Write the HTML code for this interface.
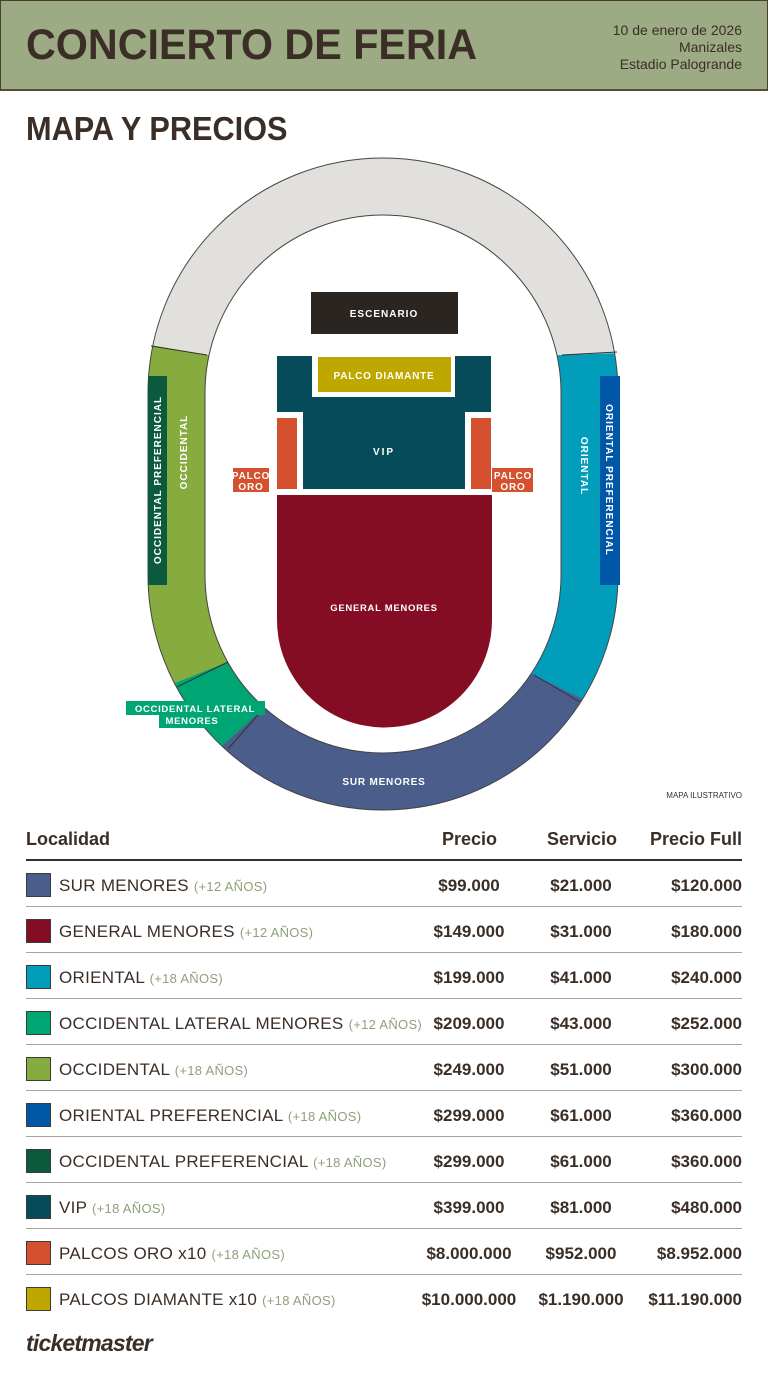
<!DOCTYPE html>
<html><head><meta charset="utf-8"><style>
*{margin:0;padding:0;box-sizing:border-box}
body{width:768px;height:1376px;background:#fff;position:relative;font-family:"Liberation Sans",sans-serif;color:#3b2e26;overflow:hidden}
.hdr{position:absolute;left:0;top:0;width:768px;height:91px;background:#9cab84;border:1px solid #4a3d33;border-bottom:2px solid #5a4a3e}
.t{position:absolute;white-space:nowrap;font-weight:bold}
.r{position:absolute;right:26px;text-align:right;font-size:14px;line-height:17px;top:22px;color:#3b2e26}
.row{position:absolute;left:26px;width:716px;height:46px;border-bottom:1px solid #a9a49e}
.sq{position:absolute;left:0;top:12px;width:25px;height:24px;border:1px solid #3b3b3b}
.nm{position:absolute;left:33px;top:15px;font-size:17px;white-space:nowrap;letter-spacing:0.3px}
.nm span{font-size:13px;color:#8fa07a}
.c{position:absolute;top:15px;font-size:17px;font-weight:bold;white-space:nowrap}
.p{left:443px;width:0;text-align:center}
.p b,.s b{position:absolute;transform:translateX(-50%);font-weight:bold}
.s{left:555px;width:0}
.f{right:0;text-align:right}
</style></head><body>
<div class="hdr"></div>
<div class="t" style="left:26px;top:21px;font-size:43px;transform:scaleX(0.96);transform-origin:left">CONCIERTO DE FERIA</div>
<div class="r">10 de enero de 2026<br>Manizales<br>Estadio Palogrande</div>
<div class="t" style="left:26px;top:110px;font-size:33px;transform:scaleX(0.93);transform-origin:left">MAPA Y PRECIOS</div>

<svg style="position:absolute;left:0;top:0" width="768" height="820" viewBox="0 0 768 820" font-family="Liberation Sans, sans-serif" font-weight="bold">
<defs>
<path id="ring" fill-rule="evenodd" d="M148,393 A235,235 0 0 1 618,393 L618,575 A235,235 0 0 1 148,575 Z M205,393 A178,178 0 0 1 561,393 L561,575 A178,178 0 0 1 205,575 Z"/>
<clipPath id="cg"><polygon points="0,0,768,0,768,348,562,355,383,362,207,355,0,318"/></clipPath>
<clipPath id="co"><polygon points="383,360,768,348,768,1000,383,600"/></clipPath>
<clipPath id="cl"><polygon points="383,600,-5,755,0,1000,383,1000"/></clipPath>
<clipPath id="cs"><polygon points="383,600,26,924,383,1100,836,825"/></clipPath>
</defs>
<use href="#ring" fill="#86ab3e"/>
<use href="#ring" fill="#029dbb" clip-path="url(#co)"/>
<use href="#ring" fill="#e1e0dc" clip-path="url(#cg)"/>
<use href="#ring" fill="#00a574" clip-path="url(#cl)"/>
<use href="#ring" fill="#4a5d8b" clip-path="url(#cs)"/>
<use href="#ring" fill="none" stroke="#444" stroke-width="1"/>
<g stroke="#333" stroke-width="1">
<line x1="151" y1="346" x2="207" y2="355"/><line x1="617" y1="352" x2="562" y2="355"/>
<line x1="177" y1="687" x2="228" y2="662"/><line x1="228" y1="749" x2="264" y2="708"/>
<line x1="580" y1="702" x2="534" y2="675"/></g>
<rect x="148" y="376" width="19" height="209" fill="#0b5a3e"/>
<rect x="600" y="376" width="20" height="209" fill="#0057a8"/>
<text transform="translate(161,480) rotate(-90)" font-size="10" fill="#fff" text-anchor="middle" letter-spacing="1">OCCIDENTAL PREFERENCIAL</text>
<text transform="translate(187,452) rotate(-90)" font-size="10" fill="#fff" text-anchor="middle" letter-spacing="1">OCCIDENTAL</text>
<text transform="translate(606,480) rotate(90)" font-size="10" fill="#fff" text-anchor="middle" letter-spacing="1">ORIENTAL PREFERENCIAL</text>
<text transform="translate(581,466) rotate(90)" font-size="10" fill="#fff" text-anchor="middle" letter-spacing="1">ORIENTAL</text>
<rect x="311" y="292" width="147" height="42" fill="#2b2522"/>
<text x="384" y="317" font-size="10" fill="#fff" text-anchor="middle" letter-spacing="1">ESCENARIO</text>
<path d="M277,356 H312 V397 H455 V356 H491 V412 H465 V489 H303 V412 H277 Z" fill="#064b5a"/>
<rect x="318" y="357" width="133" height="35" fill="#bea800"/>
<text x="384" y="379" font-size="10" fill="#fff" text-anchor="middle" letter-spacing="0.8">PALCO DIAMANTE</text>
<text x="384" y="455" font-size="10" fill="#fff" text-anchor="middle" letter-spacing="2">VIP</text>
<rect x="277" y="418" width="20" height="71" fill="#d4502e"/>
<rect x="471" y="418" width="20" height="71" fill="#d4502e"/>
<rect x="233" y="468" width="36" height="24" fill="#d4502e"/>
<rect x="492" y="468" width="41" height="24" fill="#d4502e"/>
<text font-size="10" fill="#fff" text-anchor="middle" letter-spacing="0.8"><tspan x="251" y="479">PALCO</tspan><tspan x="251" y="490">ORO</tspan></text>
<text font-size="10" fill="#fff" text-anchor="middle" letter-spacing="0.8"><tspan x="513" y="479">PALCO</tspan><tspan x="513" y="490">ORO</tspan></text>
<path d="M277,495 H492 V620 A107.5,107.5 0 0 1 277,620 Z" fill="#850d23"/>
<text x="384" y="611" font-size="9.5" fill="#fff" text-anchor="middle" letter-spacing="0.7">GENERAL MENORES</text>
<path d="M126,701 H265 V715 H225 V728 H159 V715 H126 Z" fill="#00a574"/>
<text font-size="9.5" fill="#fff" text-anchor="middle" letter-spacing="0.7"><tspan x="195" y="712">OCCIDENTAL LATERAL</tspan><tspan x="192" y="724">MENORES</tspan></text>
<text x="384" y="785" font-size="10" fill="#fff" text-anchor="middle" letter-spacing="0.8">SUR MENORES</text>
<text x="742" y="798" font-size="8" font-weight="normal" fill="#3b2e26" text-anchor="end">MAPA ILUSTRATIVO</text>
</svg>

<div class="t" style="left:26px;top:829px;font-size:18px">Localidad</div>
<div class="t" style="left:442px;top:829px;font-size:18px">Precio</div>
<div class="t" style="left:547px;top:829px;font-size:18px">Servicio</div>
<div class="t" style="right:26px;top:829px;font-size:18px">Precio Full</div>
<div style="position:absolute;left:26px;top:859px;width:716px;height:2px;background:#3b2e26"></div>

<div class="row" style="top:861px"><div class="sq" style="background:#4a5d8b"></div><div class="nm">SUR MENORES <span>(+12 AÑOS)</span></div><div class="c p"><b>$99.000</b></div><div class="c s"><b>$21.000</b></div><div class="c f">$120.000</div></div>
<div class="row" style="top:907px"><div class="sq" style="background:#850d23"></div><div class="nm">GENERAL MENORES <span>(+12 AÑOS)</span></div><div class="c p"><b>$149.000</b></div><div class="c s"><b>$31.000</b></div><div class="c f">$180.000</div></div>
<div class="row" style="top:953px"><div class="sq" style="background:#029dbb"></div><div class="nm">ORIENTAL <span>(+18 AÑOS)</span></div><div class="c p"><b>$199.000</b></div><div class="c s"><b>$41.000</b></div><div class="c f">$240.000</div></div>
<div class="row" style="top:999px"><div class="sq" style="background:#00a574"></div><div class="nm">OCCIDENTAL LATERAL MENORES <span>(+12 AÑOS)</span></div><div class="c p"><b>$209.000</b></div><div class="c s"><b>$43.000</b></div><div class="c f">$252.000</div></div>
<div class="row" style="top:1045px"><div class="sq" style="background:#86ab3e"></div><div class="nm">OCCIDENTAL <span>(+18 AÑOS)</span></div><div class="c p"><b>$249.000</b></div><div class="c s"><b>$51.000</b></div><div class="c f">$300.000</div></div>
<div class="row" style="top:1091px"><div class="sq" style="background:#0057a8"></div><div class="nm">ORIENTAL PREFERENCIAL <span>(+18 AÑOS)</span></div><div class="c p"><b>$299.000</b></div><div class="c s"><b>$61.000</b></div><div class="c f">$360.000</div></div>
<div class="row" style="top:1137px"><div class="sq" style="background:#0b5a3e"></div><div class="nm">OCCIDENTAL PREFERENCIAL <span>(+18 AÑOS)</span></div><div class="c p"><b>$299.000</b></div><div class="c s"><b>$61.000</b></div><div class="c f">$360.000</div></div>
<div class="row" style="top:1183px"><div class="sq" style="background:#064b5a"></div><div class="nm">VIP <span>(+18 AÑOS)</span></div><div class="c p"><b>$399.000</b></div><div class="c s"><b>$81.000</b></div><div class="c f">$480.000</div></div>
<div class="row" style="top:1229px"><div class="sq" style="background:#d4502e"></div><div class="nm">PALCOS ORO x10 <span>(+18 AÑOS)</span></div><div class="c p"><b>$8.000.000</b></div><div class="c s"><b>$952.000</b></div><div class="c f">$8.952.000</div></div>
<div class="row" style="top:1275px;border-bottom:none"><div class="sq" style="background:#bea800"></div><div class="nm">PALCOS DIAMANTE x10 <span>(+18 AÑOS)</span></div><div class="c p"><b>$10.000.000</b></div><div class="c s"><b>$1.190.000</b></div><div class="c f">$11.190.000</div></div>

<div class="t" style="left:26px;top:1330px;font-size:23px;font-style:italic;letter-spacing:-0.8px">ticketmaster</div>
</body></html>
